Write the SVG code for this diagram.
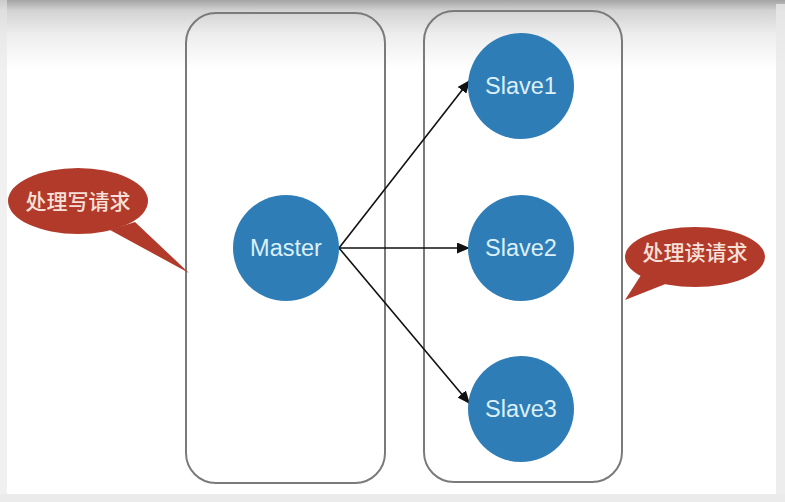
<svg xmlns="http://www.w3.org/2000/svg" width="785" height="502" viewBox="0 0 785 502">
<defs>
<linearGradient id="topg" x1="0" y1="0" x2="0" y2="1">
<stop offset="0" stop-color="#a3a3a3"/>
<stop offset="0.15" stop-color="#d2d2d2"/>
<stop offset="0.5" stop-color="#eeeeee"/>
<stop offset="1" stop-color="#ffffff"/>
</linearGradient>
<style>
.box{fill:none;stroke:#7a7a7a;stroke-width:2}
.node{fill:#2f7db6}
.nt{font-family:"Liberation Sans",Arial,sans-serif;font-size:23.5px;fill:#dcf0fa;text-anchor:middle}
.bub{fill:#b23a2b}
.bt{font-family:"Noto Sans CJK SC",sans-serif;font-size:21px;font-weight:500;fill:#f7e0d8;text-anchor:middle}
.edge{stroke:#111;stroke-width:1.6;fill:none}
</style>
<marker id="arrow" viewBox="0 0 13 11" refX="13" refY="5.5" markerWidth="13" markerHeight="11" markerUnits="userSpaceOnUse" orient="auto">
<path d="M0,0 L13,5.5 L0,11 z" fill="#111"/>
</marker>
</defs>
<rect x="0" y="0" width="785" height="502" fill="#ffffff"/>
<rect x="0" y="0" width="785" height="70" fill="url(#topg)"/>
<rect x="0" y="0" width="7" height="502" fill="#e6e6e6" opacity="0.6"/>
<rect x="776" y="4" width="9" height="498" fill="#e9e9e9" opacity="0.8"/>
<rect x="0" y="494" width="785" height="8" fill="#ebebeb"/>

<g id="masterBox"><rect class="box" x="186" y="13" width="199" height="470" rx="30"/></g>
<g id="slaveBox"><rect class="box" x="424" y="11" width="198" height="471" rx="30"/></g>

<g id="connectors">
<line class="edge" x1="339" y1="248" x2="470" y2="80" marker-end="url(#arrow)"/>
<line class="edge" x1="339" y1="248" x2="470" y2="248" marker-end="url(#arrow)"/>
<line class="edge" x1="339" y1="248" x2="470" y2="404" marker-end="url(#arrow)"/>
</g>

<g id="master"><circle class="node" cx="286" cy="248" r="53"/><text class="nt" x="286" y="256">Master</text></g>
<g id="slave1"><circle class="node" cx="521" cy="86" r="53"/><text class="nt" x="521" y="94">Slave1</text></g>
<g id="slave2"><circle class="node" cx="521" cy="248" r="53"/><text class="nt" x="521" y="256">Slave2</text></g>
<g id="slave3"><circle class="node" cx="521" cy="409" r="53"/><text class="nt" x="521" y="417">Slave3</text></g>

<g id="writeBubble">
<path class="bub" d="M110,230 L189,273 L135,222 Z"/>
<ellipse class="bub" cx="78" cy="201" rx="70" ry="33"/>
<text class="bt" x="78" y="209">处理写请求</text>
</g>
<g id="readBubble">
<path class="bub" d="M643,272 L625,300 L668,283 Z"/>
<ellipse class="bub" cx="695" cy="257" rx="70" ry="30"/>
<text class="bt" x="695" y="260">处理读请求</text>
</g>
</svg>
